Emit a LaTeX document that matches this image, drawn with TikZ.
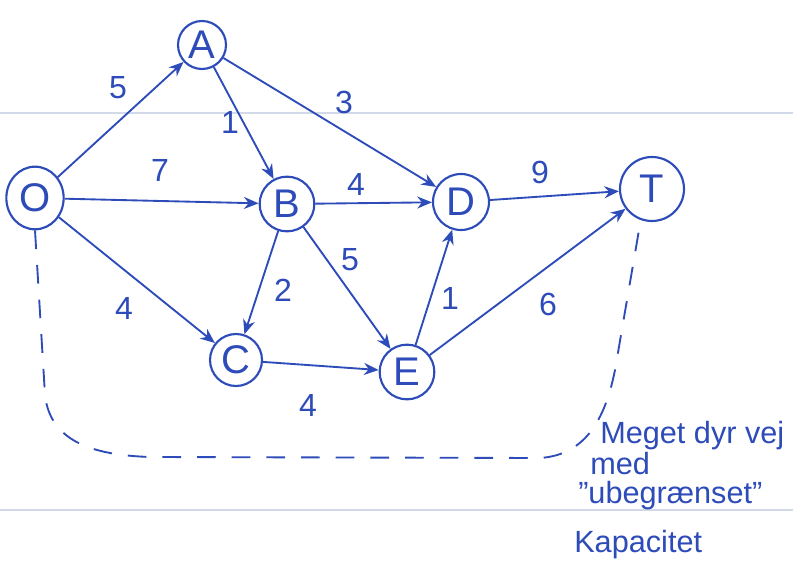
\documentclass[tikz,border=0pt]{standalone}
\usepackage{fontspec}
\setmainfont{Liberation Sans}
\usetikzlibrary{arrows.meta,shapes.geometric}
\definecolor{ink}{RGB}{45,75,185}
\definecolor{rule}{RGB}{210,218,234}
\begin{document}
\begin{tikzpicture}[x=0.75pt,y=-0.75pt,
  vtx/.style={draw=ink,circle,line width=1.6pt,inner sep=0pt,text=ink,font=\fontsize{30}{34}\selectfont},
  edge/.style={draw=ink,line width=1.4pt,-{Stealth[length=11pt,width=9pt]}},
  wlbl/.style={text=ink,font=\fontsize{24}{28}\selectfont},
  note/.style={text=ink,font=\fontsize{23}{27}\selectfont,anchor=west,inner sep=0pt}]
\useasboundingbox (0,0) rectangle (793,588);
\fill[white] (0,0) rectangle (793,588);
% paper ruling
\draw[rule,line width=1.5pt] (0,113) -- (793,113);
\draw[rule,line width=1.5pt] (0,510) -- (793,510);
% vertices
\node[vtx,ellipse,minimum width=43pt,minimum height=47pt] (O) at (35,198) {O};
\node[vtx,minimum size=36pt] (A) at (202,45) {A};
\node[vtx,minimum size=41pt] (B) at (287,204) {B};
\node[vtx,minimum size=42pt] (D) at (461,202) {D};
\node[vtx,minimum size=48pt] (T) at (652,189) {T};
\node[vtx,minimum size=39pt] (C) at (236,360) {C};
\node[vtx,minimum size=41pt] (E) at (407,372) {E};
% edges
\draw[edge] (O) -- (A);
\draw[edge] (O) -- (B);
\draw[edge] (O) -- (C);
\draw[edge] (A) -- (B);
\draw[edge] (A) -- (D);
\draw[edge] (B) -- (D);
\draw[edge] (B) -- (C);
\draw[edge] (B) -- (E);
\draw[edge] (C) -- (E);
\draw[edge] (E) -- (D);
\draw[edge] (D) -- (T);
\draw[edge] (E) -- (T);
% weights
\node[wlbl] (w1) at (118,88) {5};
\node[wlbl] (w2) at (160,170) {7};
\node[wlbl] (w3) at (124,308) {4};
\node[wlbl] (w4) at (230,122) {1};
\node[wlbl] (w5) at (344,102) {3};
\node[wlbl] (w6) at (356,184) {4};
\node[wlbl] (w7) at (283,290) {2};
\node[wlbl] (w8) at (350,260) {5};
\node[wlbl] (w9) at (308,405) {4};
\node[wlbl] (w10) at (450,298) {1};
\node[wlbl] (w11) at (540,172) {9};
\node[wlbl] (w12) at (548,304) {6};
% dashed expensive path
\coordinate (d1) at (45,395);
\coordinate (d2) at (150,457);
\coordinate (d3) at (540,458);
\coordinate (d4) at (615,370);
\draw[ink,line width=1.4pt,dash pattern=on 14pt off 12pt]
  (O.south) -- (d1) .. controls (50,440) and (90,455) .. (d2) -- (d3)
  .. controls (585,455) and (605,420) .. (d4) -- (T.250);
% annotation
\node[note] (n1) at (600,436) {Meget dyr vej};
\node[note] (n2) at (590,464) {med};
\node[note] (n3) at (578,496) {\char"22 ubegrænset\char"22};
\node[note] (n4) at (574,545) {Kapacitet};
\end{tikzpicture}
\end{document}
